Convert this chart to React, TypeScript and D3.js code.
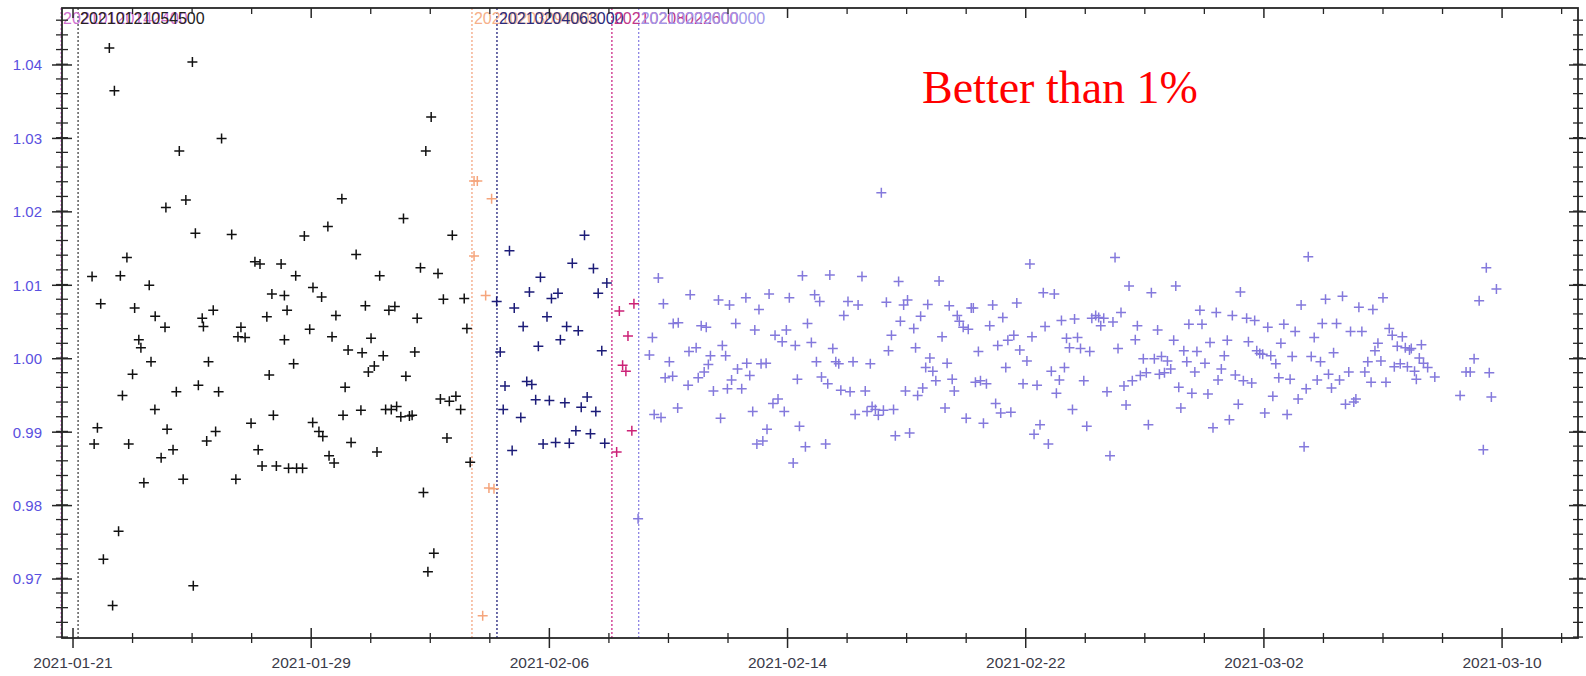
import * as d3 from 'd3';

// day offsets from 2021-01-21 00:00 UTC, and the measured ratio
const blackPts: [number, number][] = [
  [1.22, 1.0423], [4.01, 1.0404], [1.39, 1.0365], [4.99, 1.03], [3.57, 1.0283], [9.03, 1.0218], [3.79, 1.0216],
  [3.12, 1.0206], [4.11, 1.0171], [5.33, 1.0169], [7.77, 1.0167], [8.56, 1.018], [9.51, 1.0142], [1.81, 1.0138],
  [6.11, 1.0132], [6.28, 1.0129], [6.99, 1.0129], [0.64, 1.0112], [1.59, 1.0113], [7.48, 1.0113], [2.56, 1.01],
  [8.06, 1.0097], [8.35, 1.0084], [6.68, 1.0088], [7.1, 1.0086], [0.93, 1.0075], [2.07, 1.0069], [4.71, 1.0066],
  [7.19, 1.0066], [2.76, 1.0058], [4.34, 1.0055], [6.51, 1.0057], [8.83, 1.0059],
  [0.71, 0.9884], [0.82, 0.9906], [1.02, 0.9727], [1.33, 0.9664], [1.53, 0.9765], [1.66, 0.995], [1.87, 0.9884],
  [2.0, 0.9979], [2.21, 1.0026], [2.28, 1.0015], [2.38, 0.9831], [2.62, 0.9996], [2.75, 0.9931], [2.96, 0.9865],
  [3.09, 1.0043], [3.16, 0.9904], [3.36, 0.9876], [3.47, 0.9955], [3.7, 0.9836], [4.04, 0.9691], [4.21, 0.9964],
  [4.38, 1.0044], [4.49, 0.9888], [4.55, 0.9996], [4.79, 0.9901], [4.89, 0.9955], [5.47, 0.9836], [5.54, 1.003],
  [5.64, 1.0043], [5.78, 1.0029], [5.98, 0.9912], [6.22, 0.9876], [6.35, 0.9854], [6.59, 0.9978], [6.73, 0.9923],
  [6.83, 0.9854], [7.1, 1.0026], [7.24, 0.9851], [7.41, 0.9993], [7.51, 0.9851], [7.71, 0.9851], [7.95, 1.004],
  [8.05, 0.9913], [8.26, 0.9901], [8.39, 0.9894], [8.6, 0.9868], [8.7, 1.003], [8.77, 0.9858], [9.07, 0.9923],
  [9.14, 0.9961], [9.24, 1.0012], [9.34, 0.9886],
  [11.85, 1.0283], [11.1, 1.0191], [12.74, 1.0168], [11.67, 1.0124], [12.26, 1.0116], [10.3, 1.0113], [9.82, 1.0072],
  [10.61, 1.0066], [10.81, 1.0071], [12.44, 1.0081], [13.14, 1.0082], [11.56, 1.0055], [13.23, 1.0041], [10.01, 1.0028],
  [9.71, 1.0008], [10.42, 1.0004], [11.48, 1.0009], [10.12, 0.999], [9.92, 0.9982], [11.18, 0.9976], [12.34, 0.9945],
  [12.64, 0.9942], [12.86, 0.9949], [13.02, 0.9931], [9.67, 0.993], [10.5, 0.9931], [10.69, 0.9931], [10.87, 0.9935],
  [11.01, 0.9921], [11.3, 0.9922], [11.39, 0.9923], [12.56, 0.9892], [10.21, 0.9873], [13.34, 0.9859], [11.77, 0.9818],
  [12.03, 1.0329], [11.92, 0.971], [12.12, 0.9735],
];

const orangePts: [number, number][] = [
  [13.47, 1.0242], [13.58, 1.0242], [14.06, 1.0218], [13.47, 1.014], [13.86, 1.0086], [13.97, 0.9824], [14.14, 0.9823],
  [13.76, 0.965],
];

const navyPts: [number, number][] = [
  [14.23, 1.0078], [14.66, 1.0147], [14.35, 1.0009], [14.82, 1.0069], [15.33, 1.0091], [15.7, 1.0111], [16.07, 1.0082],
  [16.29, 1.0089], [15.92, 1.0057], [15.12, 1.0044], [15.63, 1.0017], [16.37, 1.0026], [16.58, 1.0044], [16.97, 1.0038],
  [16.77, 1.013], [17.18, 1.0168], [17.48, 1.0123], [17.64, 1.0089], [17.93, 1.0103], [17.76, 1.0011], [14.51, 0.9963],
  [15.24, 0.9969], [15.41, 0.9965], [14.45, 0.9931], [15.04, 0.992], [15.54, 0.9944], [16.0, 0.9943], [16.52, 0.994],
  [17.07, 0.9934], [17.27, 0.9948], [17.56, 0.9928], [14.75, 0.9875], [15.79, 0.9884], [16.21, 0.9886], [16.67, 0.9885],
  [16.89, 0.9902], [17.38, 0.9898], [17.86, 0.9885],
];

const magentaPts: [number, number][] = [
  [18.35, 1.0065], [18.84, 1.0075], [18.64, 1.0031], [18.46, 0.9991], [18.57, 0.9983], [18.77, 0.9902], [18.26, 0.9873],
];

const violetPts: [number, number][] = [
  [18.98, 0.9782], [19.36, 1.0005], [19.46, 1.0029], [19.52, 0.9924], [19.66, 1.011], [19.75, 0.992], [19.83, 1.0075],
  [19.89, 0.9974], [20.03, 0.9996], [20.14, 0.9976], [20.16, 1.0048], [20.31, 0.9933], [20.33, 1.0049],
  [20.73, 1.0087], [20.69, 1.001], [20.66, 0.9964], [20.93, 1.0015], [21.0, 0.9974], [21.1, 1.0045], [21.2, 0.9982],
  [21.27, 1.0043], [21.34, 0.9992], [21.41, 1.0004], [21.51, 0.9956], [21.68, 1.008], [21.75, 0.9919], [21.81, 1.0018],
  [21.92, 1.0004], [21.98, 0.9959], [22.05, 1.0073], [22.12, 0.9971], [22.26, 1.0048], [22.32, 0.9986], [22.46, 0.9959],
  [22.6, 1.0083], [22.63, 0.9994], [22.73, 0.9977], [22.83, 0.9928], [22.9, 1.0039], [22.97, 0.9884], [23.04, 1.0067],
  [23.11, 0.9993], [23.17, 0.9888], [23.28, 0.9994], [23.31, 0.9904], [23.38, 1.0088], [23.51, 0.9939], [23.58, 1.0032],
  [23.68, 0.9945], [23.82, 1.0023], [23.89, 0.9928], [23.96, 1.0039], [24.06, 1.0083], [24.19, 0.9858], [24.26, 1.0018],
  [24.33, 0.9972], [24.4, 0.9908], [24.5, 1.0113], [24.6, 0.988], [24.67, 1.0048], [24.8, 1.0022], [24.91, 1.0087],
  [24.97, 0.9996], [25.08, 1.0078], [25.14, 0.9975], [25.28, 0.9884], [25.35, 0.9966], [25.42, 1.0114], [25.52, 1.0014],
  [25.62, 0.9996], [25.72, 0.9993], [25.79, 0.9957], [25.89, 1.0059], [26.03, 1.0078], [26.1, 0.9955], [26.2, 0.9996],
  [26.27, 0.9924], [26.37, 1.0073], [26.5, 1.0112], [26.61, 0.9956], [26.67, 0.9928], [26.78, 0.9993], [26.84, 0.9935],
  [26.95, 0.9931], [27.05, 0.9923], [27.15, 1.0226], [27.22, 0.993], [27.32, 1.0077], [27.39, 1.0011], [27.49, 1.0032],
  [27.56, 0.9931], [27.62, 0.9895], [27.73, 1.0105], [27.79, 1.0051], [27.9, 1.0073], [27.96, 0.9956], [28.03, 1.008],
  [28.1, 0.9899], [28.24, 1.0041], [28.3, 1.0015], [28.37, 0.995], [28.47, 1.0058], [28.54, 0.996], [28.64, 0.9988],
  [28.71, 1.0074], [28.78, 1.0001], [28.88, 0.9983], [28.98, 0.997], [29.09, 1.0106], [29.19, 1.003], [29.29, 0.9933],
  [29.36, 0.9994], [29.43, 1.0072], [29.53, 0.9972], [29.6, 0.9956], [29.7, 1.0059], [29.77, 1.0051], [29.9, 1.0043],
  [30.0, 0.9919], [30.07, 1.004], [30.17, 1.0069], [30.24, 1.0069], [30.31, 0.9968], [30.41, 1.001], [30.48, 0.997],
  [30.58, 0.9912], [30.68, 0.9966], [30.79, 1.0045], [30.89, 1.0073], [30.99, 0.9939], [31.06, 1.0018], [31.16, 0.9926],
  [31.23, 1.0056], [31.33, 0.9988], [31.4, 1.0025], [31.5, 0.9927], [31.6, 1.0032], [31.7, 1.0076], [31.8, 1.0012],
  [31.91, 0.9966], [32.04, 0.9997], [32.14, 1.0129], [32.21, 1.003], [32.28, 0.9897], [32.38, 0.9964], [32.48, 0.991],
  [32.59, 1.009], [32.65, 1.0044], [32.76, 0.9884], [32.86, 0.9983], [32.96, 1.0088], [33.03, 0.9953], [33.13, 0.9971],
  [33.2, 1.0052], [33.3, 0.9988], [33.37, 1.0028], [33.47, 1.0015], [33.57, 0.9931], [33.64, 1.0054], [33.74, 1.0029],
  [33.84, 1.0014], [33.95, 0.997], [34.05, 0.9908], [34.15, 1.001], [34.22, 1.0055], [34.35, 1.0059], [34.45, 1.0056],
  [34.52, 1.0045], [34.62, 1.0055], [34.73, 0.9955], [34.83, 0.9868], [34.93, 1.005], [35.0, 1.0138], [35.1, 1.0014],
  [35.2, 1.0063], [35.3, 0.9963], [35.37, 0.9937], [35.47, 1.0099], [35.58, 0.997], [35.68, 1.0026], [35.75, 1.0045],
  [35.85, 0.9977], [35.95, 1.0], [36.05, 0.9981], [36.12, 0.991], [36.22, 1.009], [36.32, 1.0], [36.43, 1.0039],
  [36.49, 0.9979], [36.56, 1.0003], [36.66, 0.9981], [36.76, 0.9997], [36.87, 0.9986], [36.97, 1.0025], [37.04, 1.0099],
  [37.14, 0.9961], [37.21, 0.9933], [37.31, 1.0011], [37.41, 0.9996], [37.48, 1.0047], [37.58, 0.9953], [37.68, 0.9982],
  [37.75, 1.001], [37.85, 1.0066], [37.92, 1.0047], [38.02, 0.9994], [38.12, 0.9952], [38.19, 1.0022], [38.29, 0.9906],
  [38.4, 1.0063], [38.46, 0.9971], [38.57, 0.9986], [38.67, 1.0004], [38.77, 1.0025], [38.84, 0.9917], [38.94, 1.0059],
  [39.04, 0.9978], [39.14, 0.9938], [39.21, 1.0091], [39.31, 0.997], [39.42, 1.0055], [39.48, 1.0023], [39.59, 0.9967],
  [39.69, 1.0052], [39.76, 1.0011], [39.86, 1.0007], [39.96, 1.0006], [40.03, 0.9926], [40.13, 1.0043], [40.23, 1.0004],
  [40.3, 0.9949], [40.4, 0.9993], [40.5, 0.9974], [40.57, 1.0021], [40.67, 1.0047], [40.78, 0.9924], [40.88, 0.9972],
  [40.95, 1.0003], [41.05, 1.0037], [41.15, 0.9945], [41.25, 1.0073], [41.35, 0.988], [41.42, 0.9959], [41.49, 1.0139],
  [41.59, 1.0003], [41.69, 1.0029], [41.79, 0.9971], [41.9, 0.9996], [41.96, 1.0048], [42.07, 1.0081], [42.17, 0.9979],
  [42.27, 0.996], [42.34, 1.0008], [42.44, 1.0048], [42.54, 0.9971], [42.64, 1.0085], [42.74, 0.9938], [42.85, 0.9982],
  [42.91, 1.0037], [43.02, 0.9941], [43.09, 0.9945], [43.19, 1.007], [43.29, 1.0037], [43.39, 0.9982], [43.49, 0.9996],
  [43.6, 0.9968], [43.66, 1.0067], [43.73, 1.0011], [43.83, 1.0021], [43.93, 0.9997], [44.0, 1.0083], [44.1, 0.9968],
  [44.21, 1.0041], [44.31, 1.0032], [44.38, 0.9989], [44.48, 1.0017], [44.58, 0.9993], [44.65, 1.003], [44.75, 1.0015],
  [44.82, 0.9989], [44.89, 1.0012], [44.95, 1.0014], [45.06, 0.9983], [45.12, 0.9972], [45.22, 1.0001], [45.29, 1.0019],
  [45.36, 0.9994], [45.5, 0.9988], [45.74, 0.9975],
  [46.59, 0.995], [46.79, 0.9982], [46.93, 0.9982], [47.06, 1.0], [47.23, 1.0079], [47.37, 0.9876], [47.47, 1.0124],
  [47.57, 0.9981], [47.64, 0.9948], [47.81, 1.0095],
];

// file-change markers (dotted verticals)
const eventDays = [-0.4, 0.17, 13.4, 14.24, 18.1, 19.0];
const eventLabels = ['20210120142400', '20210121054500', '20210203094000', '20210204063000', '20210208022600', '20210209000000'];
const eventColors = ['#d46ed4', '#444', '#f4a582', '#1f1f7a', '#cc2a88', '#8c84e4'];
const eventTextColors = ['#d070d0', '#222', '#f6b08a', '#2a2a7c', '#c0368a', '#a198ea'];

const xTickLabels = ['2021-01-21', '2021-01-29', '2021-02-06', '2021-02-14', '2021-02-22', '2021-03-02', '2021-03-10'];
const yTickLabels = ['0.97', '0.98', '0.99', '1.00', '1.01', '1.02', '1.03', '1.04'];

const W = 1586, H = 676;
const L = 62, R = 1578, T = 8, B = 638;
const START = Date.UTC(2021, 0, 21);
const toDate = (d: number) => new Date(START + d * 864e5);

const x = d3.scaleUtc().domain([toDate(-0.37), toDate(50.55)]).range([L, R]);
const y = d3.scaleLinear().domain([0.96197, 1.04776]).range([B, T]);

const plus = 'M-5,0H5M0,-5V5';

const series = [
  { pts: blackPts, color: '#111' },
  { pts: orangePts, color: '#f5a57c' },
  { pts: navyPts, color: '#1c1c78' },
  { pts: magentaPts, color: '#cc2277' },
  { pts: violetPts, color: '#8479dc' },
];

export default function App() {
  const majorX = xTickLabels.map((_, i) => i * 8);
  const minorX = d3.range(0, 51, 2).filter((d) => d % 8 !== 0);
  const majorY = yTickLabels.map((s) => +s);
  const minorY = d3.range(9621, 10476, 20).map((v) => v / 10000).filter((v) => Math.round(v * 10000) % 100 !== 0);
  const axisColor = '#262626';
  return (
    <svg width={W} height={H} style={{ position: 'absolute', left: 0, top: 0, background: '#fff' }}>
      {eventDays.map((d, i) => (
        <line key={'ev' + i} x1={x(toDate(d))} x2={x(toDate(d))} y1={T} y2={B}
          stroke={eventColors[i]} strokeWidth={1.3} strokeDasharray="2,2" />
      ))}
      {eventDays.map((d, i) => (
        <text key={'evt' + i} x={x(toDate(d)) + 2} y={23.5} fontSize={16}
          fontFamily="Liberation Sans, Arial, sans-serif" fill={eventTextColors[i]}>{eventLabels[i]}</text>
      ))}
      {series.map((s, si) => (
        <g key={'s' + si} stroke={s.color} strokeWidth={1.5} fill="none">
          {s.pts.map((p, i) => (
            <path key={i} d={plus} transform={`translate(${x(toDate(p[0]))},${y(p[1])})`} />
          ))}
        </g>
      ))}
      <rect x={L} y={T} width={R - L} height={B - T} fill="none" stroke={axisColor} strokeWidth={1.8} />
      {majorX.map((d) => (
        <g key={'mx' + d}>
          <line x1={x(toDate(d))} x2={x(toDate(d))} y1={B - 10} y2={B + 10} stroke={axisColor} strokeWidth={1.5} />
          <line x1={x(toDate(d))} x2={x(toDate(d))} y1={T} y2={T + 10} stroke={axisColor} strokeWidth={1.5} />
        </g>
      ))}
      {minorX.map((d) => (
        <g key={'nx' + d}>
          <line x1={x(toDate(d))} x2={x(toDate(d))} y1={B - 5} y2={B + 5} stroke={axisColor} strokeWidth={1.3} />
          <line x1={x(toDate(d))} x2={x(toDate(d))} y1={T} y2={T + 6} stroke={axisColor} strokeWidth={1.3} />
        </g>
      ))}
      {majorY.map((v) => (
        <g key={'my' + v}>
          <line x1={L - 10} x2={L + 10} y1={y(v)} y2={y(v)} stroke={axisColor} strokeWidth={1.5} />
          <line x1={R - 9} x2={R + 8} y1={y(v)} y2={y(v)} stroke={axisColor} strokeWidth={1.5} />
        </g>
      ))}
      {minorY.map((v) => (
        <g key={'ny' + v}>
          <line x1={L - 6} x2={L + 6} y1={y(v)} y2={y(v)} stroke={axisColor} strokeWidth={1.3} />
          <line x1={R - 5} x2={R + 5} y1={y(v)} y2={y(v)} stroke={axisColor} strokeWidth={1.3} />
        </g>
      ))}
      {xTickLabels.map((s, i) => (
        <text key={'xl' + i} x={x(toDate(majorX[i]))} y={668} textAnchor="middle" fontSize={15.5}
          fontFamily="Liberation Sans, Arial, sans-serif" fill="#3a3a48">{s}</text>
      ))}
      {yTickLabels.map((s, i) => (
        <text key={'yl' + i} x={42} y={y(majorY[i])} dy="0.36em" textAnchor="end" fontSize={15}
          fontFamily="Liberation Sans, Arial, sans-serif" fill="#5a50e0">{s}</text>
      ))}
      <text x={922} y={103} fontSize={46} fontFamily="Liberation Serif, Times New Roman, serif" fill="#ff0000">
        Better than 1%
      </text>
    </svg>
  );
}
